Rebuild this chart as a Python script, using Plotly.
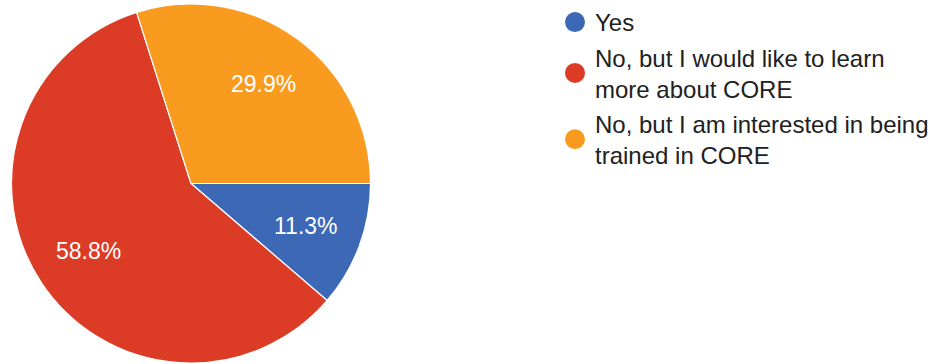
import math
import plotly.graph_objects as go

labels = ["Yes", "No, but I would like to learn<br>more about CORE", "No, but I am interested in being<br>trained in CORE"]
values = [11.3, 58.8, 29.9]
colors = ["#3C68B5", "#DC3B26", "#F99B1F"]

W, H = 934, 364
cx, cy, r = 191, 183.5, 179.5
FONT = "Liberation Sans, Arial, sans-serif"

fig = go.Figure()
fig.add_trace(go.Pie(
    labels=labels,
    values=values,
    sort=False,
    direction="clockwise",
    rotation=90,
    marker=dict(colors=colors, line=dict(color="white", width=1.2)),
    textinfo="none",
    showlegend=False,
    hoverinfo="label+percent",
    domain=dict(x=[(cx - r) / W, (cx + r) / W], y=[1 - (cy + r) / H, 1 - (cy - r) / H]),
))

# percentage labels placed along each slice's mid-angle (Google-chart style)
total = sum(values)
start = 0.0
for v in values:
    mid = (start + v / 2) / total * 2 * math.pi
    start += v
    px_ = cx + 0.685 * r * math.cos(mid)
    py_ = cy + 0.685 * r * math.sin(mid)
    fig.add_annotation(
        x=px_ / W, y=1 - py_ / H, xref="paper", yref="paper",
        xanchor="center", yanchor="middle",
        text=f"{v / total * 100:.1f}%", showarrow=False,
        font=dict(color="white", size=23, family=FONT),
    )

# legend entries with round markers
for i, (lab, col) in enumerate(zip(labels, colors)):
    fig.add_trace(go.Scatter(
        x=[None], y=[None], mode="markers", name=lab,
        legendgroup=f"g{i}",
        marker=dict(color=col, size=16, symbol="circle", line=dict(color=col, width=4)),
        hoverinfo="skip",
    ))

fig.update_layout(
    width=W, height=H,
    margin=dict(l=0, r=0, t=0, b=0),
    paper_bgcolor="white",
    plot_bgcolor="white",
    xaxis=dict(visible=False),
    yaxis=dict(visible=False),
    legend=dict(
        x=555 / W, y=1, xanchor="left", yanchor="top",
        font=dict(size=24, color="#212121", family=FONT),
        itemsizing="trace",
        tracegroupgap=1,
    ),
)

fig.write_html("out.html", config={"displayModeBar": False},
               post_script="document.body.style.margin='0';")
